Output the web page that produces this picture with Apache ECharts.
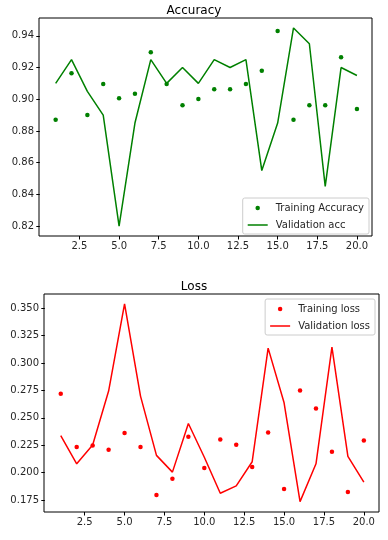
<!DOCTYPE html>
<html><head><meta charset="utf-8">
<script src="https://cdn.jsdelivr.net/npm/echarts@6/dist/echarts.min.js"></script>
<style>html,body{margin:0;padding:0;background:#fff}#c{width:388px;height:540px}</style>
</head><body><div id="c"></div>
<script>
const epochs = [1,2,3,4,5,6,7,8,9,10,11,12,13,14,15,16,17,18,19,20];
const trainAcc = [0.887,0.9164,0.890,0.9097,0.9006,0.9034,0.9297,0.9097,0.8962,0.9002,0.9063,0.9063,0.9097,0.9179,0.943,0.887,0.8962,0.8962,0.9265,0.8939];
const valAcc = [0.910,0.925,0.905,0.890,0.820,0.885,0.925,0.910,0.920,0.910,0.925,0.920,0.925,0.855,0.885,0.945,0.935,0.845,0.920,0.915];
const trainLoss = [0.272,0.2233,0.2246,0.2209,0.2362,0.2233,0.1796,0.1943,0.2328,0.2041,0.2301,0.2255,0.2050,0.2365,0.1851,0.2750,0.2585,0.2191,0.1823,0.2292];
const valLoss = [0.2337,0.2080,0.2252,0.2744,0.354,0.2698,0.2157,0.2004,0.2448,0.214,0.1811,0.1878,0.2099,0.3136,0.2637,0.1735,0.2080,0.3145,0.2148,0.1912];
const xTicks = [2.5,5,7.5,10,12.5,15,17.5,20];
const accTicks = [0.82,0.84,0.86,0.88,0.90,0.92,0.94];
const lossTicks = [0.175,0.200,0.225,0.250,0.275,0.300,0.325,0.350];

const pair = (xs, ys) => xs.map((x,i)=>[x, ys[i]]);
const font = 'DejaVu Sans';
const txt = '#262626';
function xAxis(gi){
  return {type:'value', gridIndex:gi, min:-0.05, max:20.95,
    axisLine:{show:false}, splitLine:{show:false},
    axisTick:{show:true, customValues:xTicks, length:3.5, lineStyle:{color:'#000'}},
    axisLabel:{customValues:xTicks, formatter:v=>v.toFixed(1), color:txt, fontSize:10, fontFamily:font, margin:5}};
}
function yAxis(gi, min, max, ticks, dec){
  return {type:'value', gridIndex:gi, min:min, max:max,
    axisLine:{show:false}, splitLine:{show:false},
    axisTick:{show:true, customValues:ticks, length:3.5, lineStyle:{color:'#000'}},
    axisLabel:{customValues:ticks, formatter:v=>v.toFixed(dec), color:txt, fontSize:10, fontFamily:font, margin:5}};
}
const lineIcon = 'path://M0,0L20,0L20,1.5L0,1.5Z';
const legendBase = {orient:'vertical', itemWidth:20, itemHeight:4.5, itemGap:7, symbolKeepAspect:true,
  backgroundColor:'rgba(255,255,255,0.8)', borderColor:'#cccccc', borderWidth:1, borderRadius:2,
  padding:[5,5,4,5], textStyle:{fontSize:10, fontFamily:font, color:txt, padding:[0,0,0,3]}};
const chart = echarts.init(document.getElementById('c'));
chart.setOption({
  animation:false,
  title:[
    {text:'Accuracy', left:'center', top:0, textStyle:{fontSize:12, fontWeight:'normal', fontFamily:font, color:'#000'}},
    {text:'Loss', left:'center', top:276, textStyle:{fontSize:12, fontWeight:'normal', fontFamily:font, color:'#000'}}
  ],
  grid:[
    {left:39, right:16, top:18, height:218, show:true, borderColor:'#000', borderWidth:1, backgroundColor:'transparent'},
    {left:44, right:9, top:294, height:218, show:true, borderColor:'#000', borderWidth:1, backgroundColor:'transparent'}
  ],
  xAxis:[xAxis(0), xAxis(1)],
  yAxis:[yAxis(0,0.81375,0.95125,accTicks,2), yAxis(1,0.164,0.363,lossTicks,3)],
  legend:[
    Object.assign({}, legendBase, {right:19, top:198, data:[{name:'Training Accuracy', icon:'circle'}, {name:'Validation acc', icon:lineIcon}]}),
    Object.assign({}, legendBase, {right:13, top:299, data:[{name:'Training loss', icon:'circle'}, {name:'Validation loss', icon:lineIcon}]})
  ],
  series:[
    {name:'Training Accuracy', type:'scatter', xAxisIndex:0, yAxisIndex:0, data:pair(epochs,trainAcc), symbolSize:4.5, itemStyle:{color:'#008000', opacity:1}},
    {name:'Validation acc', type:'line', xAxisIndex:0, yAxisIndex:0, data:pair(epochs,valAcc), symbol:'none', lineStyle:{color:'#008000', width:1.5}, itemStyle:{color:'#008000'}},
    {name:'Training loss', type:'scatter', xAxisIndex:1, yAxisIndex:1, data:pair(epochs,trainLoss), symbolSize:4.5, itemStyle:{color:'#ff0000', opacity:1}},
    {name:'Validation loss', type:'line', xAxisIndex:1, yAxisIndex:1, data:pair(epochs,valLoss), symbol:'none', lineStyle:{color:'#ff0000', width:1.5}, itemStyle:{color:'#ff0000'}}
  ]
});
</script></body></html>
